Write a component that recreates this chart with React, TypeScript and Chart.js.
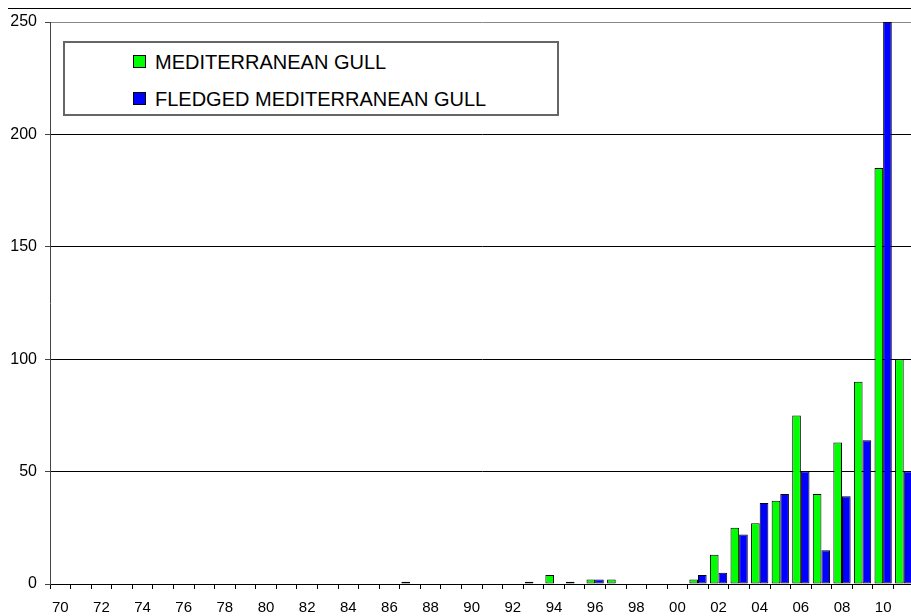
import React, { useEffect, useRef } from "react";
import { Chart, registerables } from "chart.js";

Chart.register(...registerables);

const categories = [
  "70", "71", "72", "73", "74", "75", "76", "77", "78", "79",
  "80", "81", "82", "83", "84", "85", "86", "87", "88", "89",
  "90", "91", "92", "93", "94", "95", "96", "97", "98", "99",
  "00", "01", "02", "03", "04", "05", "06", "07", "08", "09",
  "10", "11",
];

const mediterraneanGull = [
  0, 0, 0, 0, 0, 0, 0, 0, 0, 0,
  0, 0, 0, 0, 0, 0, 0, 1, 0, 0,
  0, 0, 0, 1, 4, 1, 2, 2, 0, 0,
  0, 2, 13, 25, 27, 37, 75, 40, 63, 90,
  185, 100,
];

const fledgedMediterraneanGull = [
  0, 0, 0, 0, 0, 0, 0, 0, 0, 0,
  0, 0, 0, 0, 0, 0, 0, 0, 0, 0,
  0, 0, 0, 0, 0, 0, 2, 0, 0, 0,
  0, 4, 5, 22, 36, 40, 50, 15, 39, 64,
  250, 50,
];

const seriesNames = ["MEDITERRANEAN GULL", "FLEDGED MEDITERRANEAN GULL"];
const seriesColors = ["#00FF00", "#0000FF"];
const yMax = 250;
const yStep = 50;

export default function App() {
  const canvasRef = useRef<HTMLCanvasElement | null>(null);

  useEffect(() => {
    const canvas = canvasRef.current;
    if (!canvas) return;
    const chart = new Chart(canvas, {
      type: "bar",
      data: {
        labels: categories,
        datasets: [
          {
            label: seriesNames[0],
            data: mediterraneanGull,
            backgroundColor: seriesColors[0],
            borderColor: "#000000",
            borderWidth: 1,
            borderSkipped: false,
            barPercentage: 1,
            categoryPercentage: 0.84,
          },
          {
            label: seriesNames[1],
            data: fledgedMediterraneanGull,
            backgroundColor: seriesColors[1],
            borderColor: "#000000",
            borderWidth: 1,
            borderSkipped: false,
            barPercentage: 1,
            categoryPercentage: 0.84,
          },
        ],
      },
      options: {
        responsive: false,
        animation: false,
        devicePixelRatio: 1,
        layout: { padding: { top: 22, right: 6, left: 0, bottom: 0 } },
        plugins: {
          legend: { display: false },
          tooltip: { enabled: false },
        },
        scales: {
          x: {
            offset: true,
            grid: {
              offset: true,
              drawOnChartArea: false,
              drawTicks: true,
              tickLength: 5,
              tickColor: "#000000",
            },
            border: { display: true, color: "#000000", width: 1 },
            ticks: {
              autoSkip: false,
              maxRotation: 0,
              minRotation: 0,
              padding: 10,
              color: "#000000",
              font: { family: "'Liberation Sans', Arial, sans-serif", size: 15 },
              callback: (_v: any, i: number) => (i % 2 === 0 ? categories[i] : ""),
            },
            afterFit: (scale: any) => {
              scale.height = 32;
            },
          },
          y: {
            min: 0,
            max: yMax,
            ticks: {
              stepSize: yStep,
              padding: 8,
              color: "#000000",
              font: { family: "'Liberation Sans', Arial, sans-serif", size: 16 },
            },
            grid: {
              color: (ctx: any) => {
                const v = ctx.tick ? ctx.tick.value : 0;
                if (v === yMax) return "#888888";
                return "#000000";
              },
              tickColor: "#444444",
              tickLength: 5,
              lineWidth: 1,
            },
            border: { display: true, color: "#444444", width: 1 },
            afterFit: (scale: any) => {
              scale.width = 50;
            },
          },
        },
      },
    });
    return () => chart.destroy();
  }, []);

  const legendText: React.CSSProperties = {
    position: "absolute",
    left: 90,
    fontFamily: "'Liberation Sans', Arial, sans-serif",
    fontSize: 20,
    lineHeight: "23px",
    color: "#000",
    whiteSpace: "nowrap",
  };
  const swatch: React.CSSProperties = {
    position: "absolute",
    left: 68,
    width: 11,
    height: 11,
    border: "1px solid #000",
  };

  return (
    <div
      style={{
        position: "fixed",
        left: 0,
        top: 0,
        width: 911,
        height: 616,
        overflow: "hidden",
        background: "#ffffff",
      }}
    >
      <div
        style={{
          position: "absolute",
          left: 8,
          top: 8,
          width: 903,
          height: 1,
          background: "#000000",
        }}
      />
      <canvas
        ref={canvasRef}
        width={920}
        height={616}
        style={{ position: "absolute", left: 0, top: 0, width: 920, height: 616 }}
      />
      <div
        style={{
          position: "absolute",
          left: 63,
          top: 41,
          width: 492,
          height: 71,
          border: "2px solid #666666",
          background: "#ffffff",
        }}
      >
        <div style={{ ...swatch, top: 12, background: seriesColors[0] }} />
        <div style={{ ...legendText, top: 8 }}>{seriesNames[0]}</div>
        <div style={{ ...swatch, top: 49, background: seriesColors[1] }} />
        <div style={{ ...legendText, top: 45 }}>{seriesNames[1]}</div>
      </div>
    </div>
  );
}
